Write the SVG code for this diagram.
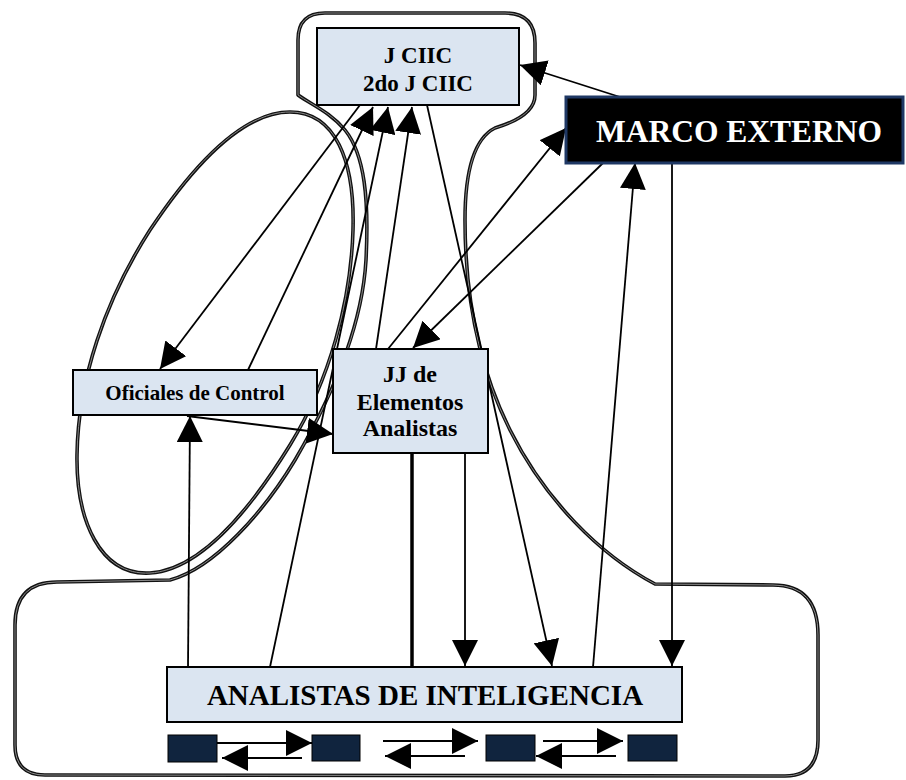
<svg xmlns="http://www.w3.org/2000/svg" width="906" height="780" viewBox="0 0 906 780">
  <defs>
    <marker id="head" markerUnits="userSpaceOnUse" markerWidth="26" markerHeight="26" refX="26" refY="13" orient="auto">
      <path d="M0,0 L26,13 L0,26 Z" fill="#000"/>
    </marker>
    <style>
      .outline { fill: none; stroke: #111; stroke-width: 3.6; stroke-linejoin: round; }
      .outline-core { fill: none; stroke: #8a8a8a; stroke-width: 1; }
      .link { fill: none; stroke: #000; stroke-width: 1.8; marker-end: url(#head); }
      .bar { fill: none; stroke: #000; stroke-width: 3.5; }
      .box { fill: #dbe5f1; stroke: #000; stroke-width: 2; }
      .unit { fill: #10243e; stroke: #000; stroke-width: 1; }
      .lbl { font-family: "Liberation Serif", "Times New Roman", serif; font-weight: bold; fill: #000; text-anchor: middle; }
    </style>
  </defs>
  <rect width="906" height="780" fill="#fff"/>

  <!-- grouping outlines -->
  <g id="outlines">
    <path id="main-outline" class="outline" d="M298,40 Q298,13 325,13 L505,13 Q535,13 535,43 L535,95 C535,112 515,122 495,128 C475,138 465,170 465,220 C465,300 480,370 510,430 C545,500 600,555 655,584 L773,585 Q818,585 818,635 L818,740 Q818,776 785,776 L45,775 Q15,775 15,745 L15,625 Q15,582 57,582 L170,580 C215,568 265,510 295,460 C330,400 362,330 366,260 C369,200 365,155 345,130 C330,112 312,105 298,95 Z"/>
    <path class="outline-core" d="M298,40 Q298,13 325,13 L505,13 Q535,13 535,43 L535,95 C535,112 515,122 495,128 C475,138 465,170 465,220 C465,300 480,370 510,430 C545,500 600,555 655,584 L773,585 Q818,585 818,635 L818,740 Q818,776 785,776 L45,775 Q15,775 15,745 L15,625 Q15,582 57,582 L170,580 C215,568 265,510 295,460 C330,400 362,330 366,260 C369,200 365,155 345,130 C330,112 312,105 298,95 Z"/>
    <path id="control-outline" class="outline" d="M290,112 C335,112 355,160 353,230 C351,300 330,380 290,445 C250,510 200,570 150,573 C100,576 76,520 77,455 C78,380 105,300 150,230 C190,170 240,112 290,112 Z"/>
    <path class="outline-core" d="M290,112 C335,112 355,160 353,230 C351,300 330,380 290,445 C250,510 200,570 150,573 C100,576 76,520 77,455 C78,380 105,300 150,230 C190,170 240,112 290,112 Z"/>
  </g>

  <!-- connectors -->
  <g id="connectors">
    <path class="link" d="M620,97 L520,65"/>
    <path class="link" d="M360,105 L160,369"/>
    <path class="link" d="M248,370 L373,107"/>
    <path class="link" d="M270,667 L388,107"/>
    <path class="link" d="M376,349 L412,107"/>
    <path class="link" d="M427,105 L552,666"/>
    <path class="link" d="M388,349 L566,128"/>
    <path class="link" d="M603,163 L413,348"/>
    <path class="link" d="M187,416 L333,434"/>
    <path class="link" d="M188,667 L190,416"/>
    <path class="bar" d="M412,453 L412,667"/>
    <path class="link" d="M465,453 L465,666"/>
    <path class="link" d="M593,667 L635,163"/>
    <path class="link" d="M672,163 L672,666"/>
    <!-- exchanges between analyst units -->
    <path class="link" d="M217,743 L312,743"/>
    <path class="link" d="M302,758 L222,758"/>
    <path class="link" d="M383,741 L478,741"/>
    <path class="link" d="M465,756 L385,756"/>
    <path class="link" d="M543,741 L623,741"/>
    <path class="link" d="M616,756 L536,756"/>
  </g>

  <g id="jciic">
    <rect class="box" x="317" y="28" width="202" height="77"/>
    <text class="lbl" x="418" y="63" font-size="23">J CIIC</text>
    <text class="lbl" x="418" y="91" font-size="23">2do J CIIC</text>
  </g>

  <g id="marco-externo">
    <rect x="566" y="97" width="337" height="66" fill="#000" stroke="#1f3864" stroke-width="3"/>
    <text class="lbl" x="739" y="142" font-size="31.5" style="fill:#fff">MARCO EXTERNO</text>
  </g>

  <g id="oficiales">
    <rect class="box" x="73" y="370" width="244" height="45"/>
    <text class="lbl" x="195" y="400" font-size="21">Oficiales de Control</text>
  </g>

  <g id="jj-elementos">
    <rect class="box" x="333" y="349" width="155" height="104"/>
    <text class="lbl" x="410" y="382" font-size="24">JJ de</text>
    <text class="lbl" x="410" y="410" font-size="24">Elementos</text>
    <text class="lbl" x="410" y="436" font-size="24">Analistas</text>
  </g>

  <g id="analistas">
    <rect class="box" x="167" y="667" width="515" height="55"/>
    <text class="lbl" x="425" y="705" font-size="29">ANALISTAS DE INTELIGENCIA</text>
  </g>

  <g id="unit-1"><rect class="unit" x="168" y="735" width="49" height="27"/></g>
  <g id="unit-2"><rect class="unit" x="312" y="735" width="48" height="26"/></g>
  <g id="unit-3"><rect class="unit" x="486" y="735" width="49" height="26"/></g>
  <g id="unit-4"><rect class="unit" x="628" y="735" width="49" height="26"/></g>
</svg>
